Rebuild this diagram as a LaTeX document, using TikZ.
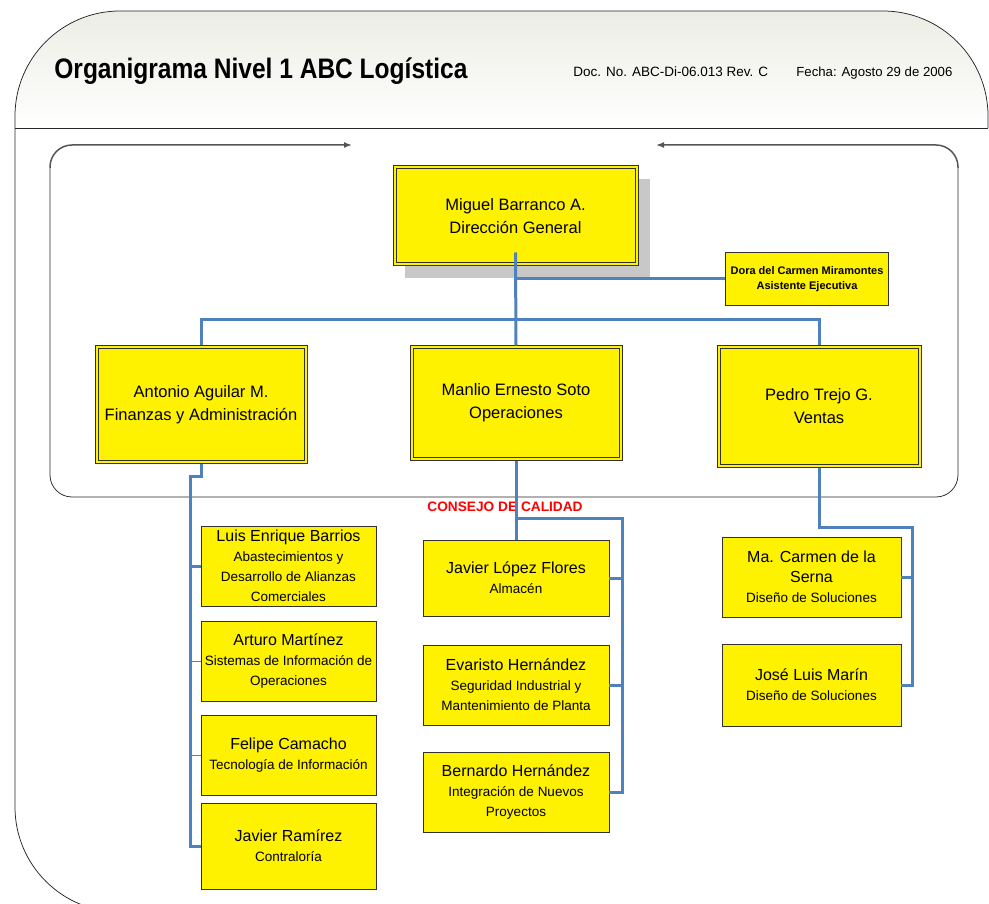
\documentclass[tikz,border=0pt]{standalone}
\usepackage{fontspec}
\setmainfont{Liberation Sans}
\newfontfamily\titlefamily[FakeStretch=0.87]{Liberation Sans}
\usetikzlibrary{arrows.meta,calc}

\definecolor{linkblue}{RGB}{79,129,189}
\definecolor{boxline}{RGB}{50,50,50}
\definecolor{headtop}{RGB}{234,236,226}
\definecolor{shadowgray}{RGB}{200,200,200}
\definecolor{arrowgray}{RGB}{85,85,85}

\newcommand{\rolefont}{\fontsize{13.5}{19}\selectfont}

\tikzset{every picture/.style={line width=0.75pt}}
\tikzset{
  orgbox/.style={draw=boxline, fill=yellow, align=center, inner sep=0pt, font=\fontsize{16}{20}\selectfont},
  leadbox/.style={orgbox, line width=1pt, font=\fontsize{16.5}{23}\selectfont},
  innerline/.style={draw=boxline, line width=1pt},
  link/.style={draw=linkblue, line width=3pt},
  thinlink/.style={draw=linkblue, line width=1pt},
  toparrow/.style={draw=arrowgray, line width=1.5pt, -{Latex[length=8pt,width=6pt]}},
}

\begin{document}
\begin{tikzpicture}[x=1pt,y=1pt,yscale=-1]
\useasboundingbox (0,0) rectangle (989,904);

%Shape: Outer frame with header
\begin{scope}
\clip (0,0) rectangle (989,904);
\begin{scope}
\path[clip, rounded corners=105pt] (300,912) -- (15,912) -- (15,11) -- (988,11) -- (988,912) -- cycle;
\shade[top color=headtop, bottom color=white] (0,0) rectangle (989,128);
\end{scope}
\draw[black!85, rounded corners=105pt] (300,912) -- (15,912) -- (15,11) -- (988,11) -- (988,128);
\end{scope}
\draw[black!85] (15,128) -- (988,128);

%Shape: Inner frame with arrows
\draw[black!85, rounded corners=22pt] (50,168) -- (50,497) -- (958,497) -- (958,168);
\draw[toparrow, rounded corners=22pt] (50,168) -- (50,145) -- (352,145);
\draw[toparrow, rounded corners=22pt] (958,168) -- (958,145) -- (656,145);

% Text Node
\node[anchor=base west, inner sep=0pt, font=\titlefamily\bfseries\fontsize{28.2}{30}\selectfont] (title) at (54,79) {Organigrama Nivel 1 ABC Logística};
% Text Node
\node[anchor=base west, inner sep=0pt, font=\fontsize{13.5}{16}\selectfont] (docno) at (573,77) {Doc. No. ABC-Di-06.013 Rev. C};
% Text Node
\node[anchor=base west, inner sep=0pt, font=\fontsize{13.2}{16}\selectfont] (fecha) at (796,77) {Fecha: Agosto 29 de 2006};

%Shape: Shadow
\fill[shadowgray] (405,179) rectangle (650,278);

% Level 0
\node[leadbox, minimum width=245pt, minimum height=100pt] (miguel) at (515.5,216) {Miguel Barranco A.\\Dirección General};
\node[orgbox, minimum width=163pt, minimum height=53pt, font=\bfseries\fontsize{11}{15}\selectfont] (dora) at (807,279) {Dora del Carmen Miramontes\\Asistente Ejecutiva};

% Level 1
\node[leadbox, minimum width=212pt, minimum height=117pt] (antonio) at (201,404.5) {Antonio Aguilar M.\\Finanzas y Administración};
\node[leadbox, minimum width=212pt, minimum height=114pt] (manlio) at (516,403) {Manlio Ernesto Soto\\Operaciones};
\node[leadbox, minimum width=204pt, minimum height=121pt] (pedro) at (819,406.5) {Pedro Trejo G.\\Ventas};

% inner lines of the lead boxes
\foreach \lead in {miguel,antonio,manlio,pedro}
  \draw[innerline] ($(\lead.north west)+(3.5,3.5)$) rectangle ($(\lead.south east)+(-3.5,-3.5)$);

% Finanzas
\node[orgbox, minimum width=175pt, minimum height=80pt] (barrios) at (288.5,566) {Luis Enrique Barrios\\\rolefont Abastecimientos y\\\rolefont Desarrollo de Alianzas\\\rolefont Comerciales};
\node[orgbox, minimum width=175pt, minimum height=80pt] (martinez) at (288.5,661) {Arturo Martínez\\\rolefont Sistemas de Información de\\\rolefont Operaciones};
\node[orgbox, minimum width=175pt, minimum height=80pt] (camacho) at (288.5,755) {Felipe Camacho\\\rolefont Tecnología de Información};
\node[orgbox, minimum width=175pt, minimum height=86pt] (ramirez) at (288.5,846) {Javier Ramírez\\\rolefont Contraloría};

% Operaciones
\node[anchor=base west, inner sep=0pt, text=red, font=\bfseries\fontsize{13.7}{16}\selectfont] (consejo) at (427,511) {CONSEJO DE CALIDAD};
\node[orgbox, minimum width=186pt, minimum height=76pt] (lopez) at (516,578) {Javier López Flores\\\rolefont Almacén};
\node[orgbox, minimum width=186pt, minimum height=80pt] (ehernandez) at (516,685) {Evaristo Hernández\\\rolefont Seguridad Industrial y\\\rolefont Mantenimiento de Planta};
\node[orgbox, minimum width=186pt, minimum height=80pt] (bhernandez) at (516,792) {Bernardo Hernández\\\rolefont Integración de Nuevos\\\rolefont Proyectos};

% Ventas
\node[orgbox, minimum width=179pt, minimum height=80pt] (serna) at (811.5,577) {Ma. Carmen de la\\Serna\\\rolefont Diseño de Soluciones};
\node[orgbox, minimum width=179pt, minimum height=82pt] (marin) at (811.5,685) {José Luis Marín\\\rolefont Diseño de Soluciones};

% Connectors
\coordinate (topbar) at (516,320);
\coordinate (leftspine) at (190,476);
\coordinate (midspine) at (622,518);
\coordinate (rightspine) at (912,527);

\draw[link] ($(miguel.south)+(0,-14)$) -- (manlio.north);
\draw[link] (miguel.south |- dora.west) -- (dora.west);
\draw[link] (antonio.north) |- (topbar) -| (pedro.north);

\draw[link] (antonio.south) |- (leftspine) |- (ramirez.west);
\draw[link] (leftspine |- barrios.west) -- (barrios.west);
\draw[thinlink] (leftspine |- martinez.west) -- (martinez.west);
\draw[thinlink] (leftspine |- camacho.west) -- (camacho.west);

\draw[link] (manlio.south) -- (lopez.north);
\draw[link] (manlio.south |- midspine) -- (midspine) |- (bhernandez.east);
\draw[link] (midspine |- lopez.east) -- (lopez.east);
\draw[link] (midspine |- ehernandez.east) -- (ehernandez.east);

\draw[link] (pedro.south) |- (rightspine) |- (marin.east);
\draw[link] (rightspine |- serna.east) -- (serna.east);
\end{tikzpicture}
\end{document}
